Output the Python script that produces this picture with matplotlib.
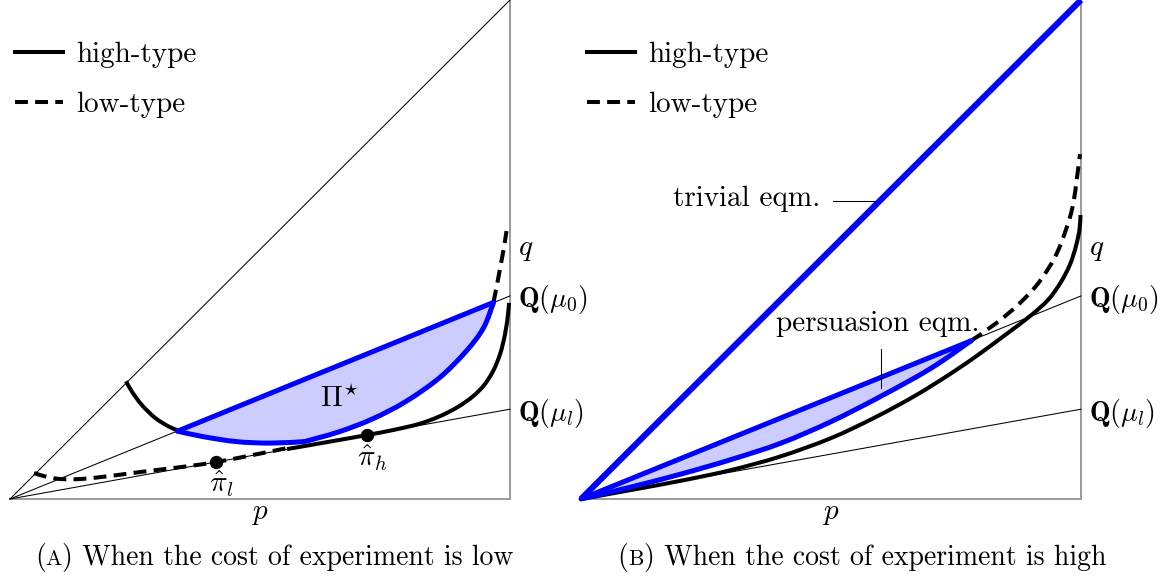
import matplotlib
matplotlib.use("Agg")
import matplotlib.pyplot as plt
from matplotlib.lines import Line2D
from matplotlib.path import Path
from matplotlib.patches import PathPatch

plt.rcParams["mathtext.fontset"] = "cm"
plt.rcParams["font.family"] = ["cmr10", "DejaVu Serif"]
plt.rcParams["axes.unicode_minus"] = False

# ---------------- data ----------------
# slopes of the rays through the origin
slope_q_mu0 = 0.407
slope_q_mul = 0.18

# Panel A: low cost of experiment
a_high_arc_p = [0.232, 0.244, 0.264, 0.291, 0.318, 0.335]
a_high_arc_q = [0.236, 0.215, 0.188, 0.162, 0.145, 0.138]

a_high_right_p = [0.554, 0.634, 0.713, 0.770, 0.820, 0.860, 0.895, 0.925, 0.948,
                  0.966, 0.980, 0.990, 0.996, 0.998]
a_high_right_q = [0.100, 0.114, 0.128, 0.139, 0.151, 0.166, 0.184, 0.205, 0.228,
                  0.256, 0.290, 0.330, 0.370, 0.393]

a_low_left_p = [0.048, 0.075, 0.102, 0.140, 0.182, 0.230, 0.284, 0.350, 0.412, 0.480, 0.554]
a_low_left_q = [0.052, 0.044, 0.040, 0.040, 0.044, 0.050, 0.057, 0.065, 0.074, 0.087, 0.102]

a_low_top_p = [0.967, 0.975, 0.982, 0.988, 0.993]
a_low_top_q = [0.394, 0.435, 0.472, 0.505, 0.537]

# lower edge of the equilibrium set Pi*, in two pieces meeting at a kink
a_set_lower1_p = [0.335, 0.386, 0.453, 0.521, 0.589]
a_set_lower1_q = [0.136, 0.125, 0.115, 0.112, 0.115]
a_set_lower2_p = [0.589, 0.656, 0.724, 0.791, 0.859, 0.913, 0.947, 0.967]
a_set_lower2_q = [0.115, 0.134, 0.160, 0.195, 0.243, 0.297, 0.343, 0.394]
a_set_upper_p = [0.335, 0.967]
a_set_upper_q = [0.136, 0.394]

a_pihat_p = [0.412, 0.713]
a_pihat_q = [0.074, 0.128]
a_pihat_labels = [r"$\hat{\pi}_l$", r"$\hat{\pi}_h$"]

# Panel B: high cost of experiment
b_high_p = [0.0, 0.100, 0.207, 0.300, 0.398, 0.500, 0.589, 0.670, 0.742, 0.800, 0.850,
            0.900, 0.935, 0.960, 0.978, 0.990, 0.997, 0.999]
b_high_q = [0.0, 0.018, 0.038, 0.058, 0.085, 0.122, 0.164, 0.208, 0.253, 0.293, 0.330,
            0.368, 0.400, 0.435, 0.470, 0.507, 0.540, 0.569]

b_low_p = [0.780, 0.830, 0.875, 0.915, 0.948, 0.970, 0.985, 0.998]
b_low_q = [0.317, 0.352, 0.390, 0.433, 0.485, 0.540, 0.595, 0.691]

b_set_lower_p = [0.0, 0.100, 0.200, 0.300, 0.400, 0.500, 0.600, 0.700, 0.780]
b_set_lower_q = [0.0, 0.024, 0.050, 0.079, 0.112, 0.155, 0.206, 0.262, 0.317]
b_set_upper_p = [0.0, 0.780]
b_set_upper_q = [0.0, 0.317]

captions = [("A", "When the cost of experiment is low"),
            ("B", "When the cost of experiment is high")]

# ---------------- styling ----------------
BLUE = "#0000ff"
FILL = "#ccccff"
GREY = "#9a9a9a"
LW_CURVE = 2.9
LW_BLUE = 3.6
LW_THIN = 0.75
DASH = (3.2, 1.8)
FS = 21

W, H = 1172, 588
fig = plt.figure(figsize=(W / 100, H / 100), dpi=100)
ax_a = fig.add_axes([10 / W, (H - 499) / H, 500 / W, 499 / H])
ax_b = fig.add_axes([581 / W, (H - 499) / H, 500 / W, 499 / H])


def spline_segments(ps, qs):
    """Cubic Bezier pieces (Catmull-Rom) passing through the given points."""
    pts = list(zip(ps, qs))
    n = len(pts)
    verts, codes = [], []
    for i in range(n - 1):
        p0 = pts[i - 1] if i > 0 else pts[i]
        p1, p2 = pts[i], pts[i + 1]
        p3 = pts[i + 2] if i + 2 < n else pts[i + 1]
        c1 = (p1[0] + (p2[0] - p0[0]) / 6, p1[1] + (p2[1] - p0[1]) / 6)
        c2 = (p2[0] - (p3[0] - p1[0]) / 6, p2[1] - (p3[1] - p1[1]) / 6)
        verts += [c1, c2, p2]
        codes += [Path.CURVE4] * 3
    return verts, codes


def curve(ax, ps, qs, color="black", lw=LW_CURVE, dashed=False, z=3):
    v, c = spline_segments(ps, qs)
    path = Path([(ps[0], qs[0])] + v, [Path.MOVETO] + c)
    patch = PathPatch(path, fill=False, edgecolor=color, lw=lw, zorder=z,
                      capstyle="round" if color == BLUE else "butt",
                      joinstyle="round", clip_on=False,
                      linestyle=(0, DASH) if dashed else "-")
    ax.add_patch(patch)


def region(ax, up_p, up_q, lower_pieces):
    # straight upper edge, then the smooth lower edge pieces traversed backwards
    verts = [(up_p[0], up_q[0]), (up_p[1], up_q[1])]
    codes = [Path.MOVETO, Path.LINETO]
    for lo_p, lo_q in reversed(lower_pieces):
        v, c = spline_segments(lo_p[::-1], lo_q[::-1])
        verts += v
        codes += c
    verts.append((up_p[0], up_q[0]))
    codes.append(Path.CLOSEPOLY)
    ax.add_patch(PathPatch(Path(verts, codes), facecolor=FILL, lw=0, zorder=2))
    ax.plot(up_p, up_q, color=BLUE, lw=LW_BLUE, zorder=4, solid_capstyle="round")
    for lo_p, lo_q in lower_pieces:
        curve(ax, lo_p, lo_q, color=BLUE, lw=LW_BLUE, z=4)


def frame(ax):
    ax.set_xlim(0, 1)
    ax.set_ylim(0, 1)
    ax.set_xticks([])
    ax.set_yticks([])
    ax.patch.set_alpha(0)
    for side in ("left", "top"):
        ax.spines[side].set_visible(False)
    for side in ("bottom", "right"):
        ax.spines[side].set_color(GREY)
        ax.spines[side].set_linewidth(1.4)
        ax.spines[side].set_zorder(0.5)
    ax.text(0.5, -0.04, r"$p$", fontsize=FS, ha="center", va="baseline",
            transform=ax.transAxes)
    ax.text(1.016, 0.488, r"$q$", fontsize=FS, ha="left", va="baseline",
            transform=ax.transAxes)
    # rays Q(mu_0) and Q(mu_l)
    ax.plot([0, 1], [0, slope_q_mu0], color="black", lw=LW_THIN, zorder=1, clip_on=False)
    ax.plot([0, 1], [0, slope_q_mul], color="black", lw=LW_THIN, zorder=1, clip_on=False)
    ax.text(1.016, slope_q_mu0 - 0.007, r"$\mathbf{Q}(\mu_0)$", fontsize=20,
            ha="left", va="center", transform=ax.transAxes)
    ax.text(1.016, slope_q_mul - 0.008, r"$\mathbf{Q}(\mu_l)$", fontsize=20,
            ha="left", va="center", transform=ax.transAxes)


def legend(ax, x0):
    handles = [Line2D([], [], color="black", lw=LW_CURVE, label="high-type"),
               Line2D([], [], color="black", lw=LW_CURVE, dashes=DASH, label="low-type")]
    ax.legend(handles=handles, loc="upper left", bbox_to_anchor=(x0, 0.917),
              frameon=False, fontsize=FS, handlelength=1.66, handletextpad=0.42,
              labelspacing=0.82, borderpad=0, borderaxespad=0)


# ---------------- panel A ----------------
frame(ax_a)
ax_a.plot([0, 1], [0, 1], color="black", lw=LW_THIN, zorder=1, clip_on=False)

curve(ax_a, a_high_arc_p, a_high_arc_q)
curve(ax_a, a_high_right_p, a_high_right_q)
curve(ax_a, a_low_left_p, a_low_left_q, dashed=True)
curve(ax_a, a_low_top_p, a_low_top_q, dashed=True)
region(ax_a, a_set_upper_p, a_set_upper_q,
       [(a_set_lower1_p, a_set_lower1_q), (a_set_lower2_p, a_set_lower2_q)])

ax_a.plot(a_pihat_p, a_pihat_q, "o", color="black", ms=8.6, zorder=5)
ax_a.text(0.423, 0.030, a_pihat_labels[0], fontsize=21, ha="center", va="center")
ax_a.text(0.725, 0.082, a_pihat_labels[1], fontsize=21, ha="center", va="center")
ax_a.text(0.658, 0.200, r"$\Pi^{\star}$", fontsize=21, ha="center", va="center")
legend(ax_a, 0.010)

# ---------------- panel B ----------------
frame(ax_b)
ax_b.plot([0, 1], [0, 1], color=BLUE, lw=4.4, zorder=4, clip_on=False,
          solid_capstyle="butt")

curve(ax_b, b_high_p, b_high_q)
curve(ax_b, b_low_p, b_low_q, dashed=True)
region(ax_b, b_set_upper_p, b_set_upper_q, [(b_set_lower_p, b_set_lower_q)])

# leader lines for the equilibrium annotations
ax_b.plot([0.504, 0.597], [0.597, 0.597], color="black", lw=LW_THIN, zorder=3)
ax_b.text(0.478, 0.587, "trivial eqm.", fontsize=FS, ha="right", va="baseline")
ax_b.plot([0.6006, 0.6006], [0.2224, 0.3006], color="black", lw=LW_THIN, zorder=5)
ax_b.text(0.593, 0.337, "persuasion eqm.", fontsize=FS, ha="center", va="baseline")
legend(ax_b, 0.012)

# ---------------- captions with small-caps panel letters ----------------
renderer = fig.canvas.get_renderer()


def caption(xc_px, base_px, letter, rest, size=20):
    pieces = [("(", size), (letter, size * 0.78), (") " + rest, size)]
    texts = [fig.text(0, 1 - base_px / H, s, fontsize=fs, ha="left", va="baseline")
             for s, fs in pieces]
    widths = [t.get_window_extent(renderer).width for t in texts]
    x = xc_px - sum(widths) / 2
    for t, w in zip(texts, widths):
        t.set_x(x / W)
        x += w


caption(274, 565, *captions[0])
caption(862, 565, *captions[1])

fig.savefig("out.png", dpi=100)
